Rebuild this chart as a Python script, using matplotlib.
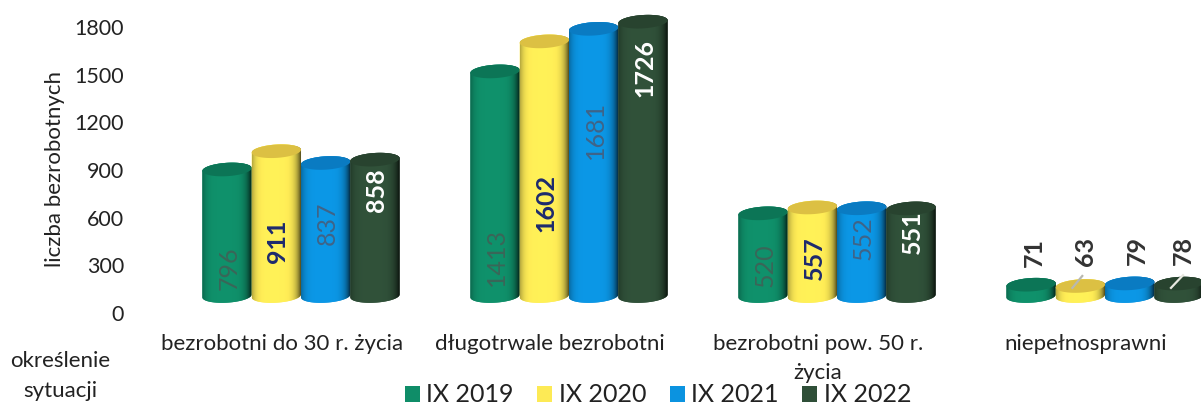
import numpy as np
import matplotlib
matplotlib.use('Agg')
import matplotlib.pyplot as plt
from matplotlib.colors import to_rgb
from matplotlib.patches import Polygon, Rectangle

plt.rcParams['font.family'] = ['Lato', 'DejaVu Sans']

# Dane
categories = ['bezrobotni do 30 r. życia', 'długotrwale bezrobotni',
              'bezrobotni pow. 50 r.\nżycia', 'niepełnosprawni']
years = ['IX 2019', 'IX 2020', 'IX 2021', 'IX 2022']
v2019 = [796, 1413, 520, 71]
v2020 = [911, 1602, 557, 63]
v2021 = [837, 1681, 552, 79]
v2022 = [858, 1726, 551, 78]
y_ticks = [0, 300, 600, 900, 1200, 1500, 1800]

# Wygląd
series = [v2019, v2020, v2021, v2022]
colors = ['#0f8d68', '#fdea55', '#0b93e0', '#2f4f38']
top_colors = ['#0c7556', '#dcc043', '#0a7bc2', '#28432f']
label_colors = ['#3a6658', '#1d2a6e', '#3f6488', '#ffffff']
label_weights = ['normal', 'bold', 'normal', 'bold']
# środki etykiet na osi y (ręcznie, bo w oryginale są przesunięte)
label_y = [[283, 352, 302, 378],
           [453, 692, 346, 384],
           [566, 1152, 472, 396],
           [774, 1542, 510, 396]]
small_shift = [0.012, 0.02, 0.03, 0.015]

BASE = 107      # podstawa walca nad zerem
WIDTH = 0.184
RY = 42         # półoś elipsy w jednostkach y
TILT = 9        # pochylenie elipsy (skan jest lekko krzywy)


def ellipse_xy(cx, cy, t):
    return np.column_stack([cx + WIDTH / 2 * np.cos(t),
                            cy + RY * np.sin(t) + TILT * np.cos(t)])


def draw_cylinder(ax, cx, value, color, top_color, z):
    lower = ellipse_xy(cx, BASE, np.linspace(np.pi, 2 * np.pi, 40))
    upper = ellipse_xy(cx, BASE + value, np.linspace(0, np.pi, 40))
    body = Polygon(np.vstack([lower, upper]), closed=True, facecolor=color,
                   edgecolor='none', zorder=z)
    ax.add_patch(body)
    # cieniowanie: ciemne krawędzie, jaśniej w środku
    u = np.linspace(-1, 1, 60)
    shade = 1.03 - 0.5 * np.abs(u + 0.1) ** 5
    img = np.clip(np.outer(shade, to_rgb(color)), 0, 1)[None, :, :]
    im = ax.imshow(img, extent=(cx - WIDTH / 2, cx + WIDTH / 2,
                                BASE - RY - TILT, BASE + value + RY + TILT),
                   aspect='auto', zorder=z + 0.1)
    im.set_clip_path(body)
    top = Polygon(ellipse_xy(cx, BASE + value, np.linspace(0, 2 * np.pi, 80)),
                  closed=True, facecolor=top_color, edgecolor='none', zorder=z + 0.2)
    ax.add_patch(top)


fig = plt.figure(figsize=(12.01, 4.07), dpi=100)
ax = fig.add_axes([167 / 1201, 1 - 313 / 407, (1201 - 167) / 1201, 308 / 407])

x = np.arange(len(categories))
for i, vals in enumerate(series):
    offset = (i - 1.5) * WIDTH
    for j, v in enumerate(vals):
        draw_cylinder(ax, x[j] + offset, v, colors[i], top_colors[i], 2 + i + j * 0.01)
        small = v < 100
        ax.text(x[j] + offset + (small_shift[i] if small else 0.006), label_y[i][j], str(v),
                rotation=90, ha='center', va='center', fontsize=18,
                color='#333333' if small else label_colors[i],
                fontweight='bold' if small or label_weights[i] == 'bold' else 'normal',
                zorder=10)

# linie odniesienia przy niepełnosprawnych
ax.plot([x[3] - 0.5 * WIDTH - 0.03, x[3] - 0.5 * WIDTH + 0.007], [158, 233],
        color='#b8b8b0', lw=1.6, zorder=9)
ax.plot([x[3] + 1.5 * WIDTH - 0.03, x[3] + 1.5 * WIDTH + 0.015], [158, 238],
        color='#e8e8e0', lw=1.6, zorder=9)

ax.set_xlim(-0.5, 3.358)
ax.set_ylim(0, 1938)
ax.set_xticks(x - 0.071)
ax.set_xticklabels(categories, fontsize=16, color='#222222', linespacing=1.55)
ax.set_yticks(y_ticks)
ax.tick_params(axis='y', length=0, pad=31, labelsize=15.5, labelcolor='#222222')
ax.tick_params(axis='x', length=0, pad=15)
for s in ax.spines.values():
    s.set_visible(False)
ax.patch.set_alpha(0)

fig.text(55 / 1201, 1 - 169 / 407, 'liczba bezrobotnych', rotation=90, ha='center',
         va='center', fontsize=16, color='#222222')
fig.text(60 / 1201, 1 - 376 / 407, 'określenie\nsytuacji', ha='center', va='center',
         fontsize=16, color='#222222', linespacing=1.6)

handles = [Rectangle((0, 0), 1, 1, facecolor=c) for c in colors]
fig.legend(handles, years, ncol=4, loc='center', bbox_to_anchor=(658 / 1201, 1 - 395 / 407),
           frameon=False, fontsize=18, handlelength=0.6, handleheight=0.6,
           handletextpad=0.25, columnspacing=0.95, labelcolor='#222222',
           borderpad=0, borderaxespad=0)

fig.savefig('out.png', dpi=100)
